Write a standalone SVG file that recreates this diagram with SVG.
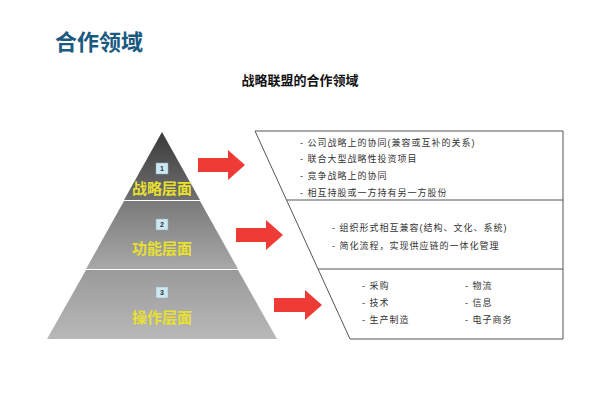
<svg xmlns="http://www.w3.org/2000/svg" width="600" height="400" viewBox="0 0 600 400">
<style>
.t{font-family:"Liberation Sans","Noto Sans CJK SC",sans-serif}
.it{font-size:9px;fill:#333;letter-spacing:1px}
.lv{font-size:15px;font-weight:bold;fill:#e8e030}
.num{font-size:7px;font-weight:bold;fill:#234}
.nb{fill:#cde8f0;stroke:#9ab;stroke-width:0.5}
.arr{fill:#ee3b36}
.ln{stroke:#555;stroke-width:1;fill:none}
</style>
<defs>
<linearGradient id="g1" x1="0" y1="0" x2="0" y2="1"><stop offset="0" stop-color="#3a3a3a"/><stop offset="1" stop-color="#707070"/></linearGradient>
<linearGradient id="g2" x1="0" y1="0" x2="0" y2="1"><stop offset="0" stop-color="#7a7a7a"/><stop offset="1" stop-color="#a8a8a8"/></linearGradient>
<linearGradient id="g3" x1="0" y1="0" x2="0" y2="1"><stop offset="0" stop-color="#9a9a9a"/><stop offset="1" stop-color="#b8b8b8"/></linearGradient>
</defs>
<rect width="600" height="400" fill="#fff"/>
<text class="t" x="55" y="50" font-size="22" font-weight="bold" fill="#1a5a80">合作领域</text>
<text class="t" x="300" y="85" font-size="13" font-weight="bold" fill="#111" text-anchor="middle">战略联盟的合作领域</text>
<g id="level1">
<polygon points="162,132 200,200 124,200" fill="url(#g1)"/>
<rect class="nb" x="156" y="163" width="12" height="11"/>
<text class="t num" x="162" y="171" text-anchor="middle">1</text>
<text class="t lv" x="162" y="194" text-anchor="middle">战略层面</text>
</g>
<g id="level2">
<polygon points="124,201 200,201 238,269 86,269" fill="url(#g2)"/>
<rect class="nb" x="156" y="219" width="12" height="11"/>
<text class="t num" x="162" y="227" text-anchor="middle">2</text>
<text class="t lv" x="162" y="254" text-anchor="middle">功能层面</text>
</g>
<g id="level3">
<polygon points="86,270 238,270 277,339 47,339" fill="url(#g3)"/>
<rect class="nb" x="156" y="287" width="12" height="11"/>
<text class="t num" x="162" y="295" text-anchor="middle">3</text>
<text class="t lv" x="162" y="323" text-anchor="middle">操作层面</text>
</g>
<g id="connectors">
<polygon class="arr" points="198,158 228,158 228,150 245,165 228,180 228,172 198,172"/>
<polygon class="arr" points="236,228 266,228 266,220 283,235 266,250 266,242 236,242"/>
<polygon class="arr" points="274,298 305,298 305,290 322,305 305,320 305,312 274,312"/>
</g>
<g id="panel">
<polygon class="ln" points="255,131 563,131 563,339 350,339"/>
<line class="ln" x1="287" y1="200" x2="563" y2="200"/>
<line class="ln" x1="318" y1="269" x2="563" y2="269"/>
</g>
<g id="strategy-items" class="t it">
<text x="300" y="146">- 公司战略上的协同(兼容或互补的关系)</text>
<text x="300" y="162">- 联合大型战略性投资项目</text>
<text x="300" y="179">- 竞争战略上的协同</text>
<text x="300" y="196">- 相互持股或一方持有另一方股份</text>
</g>
<g id="function-items" class="t it">
<text x="332" y="231">- 组织形式相互兼容(结构、文化、系统)</text>
<text x="332" y="249">- 简化流程，实现供应链的一体化管理</text>
</g>
<g id="operation-items" class="t it">
<text x="362" y="289">- 采购</text>
<text x="362" y="306">- 技术</text>
<text x="362" y="323">- 生产制造</text>
<text x="465" y="289">- 物流</text>
<text x="465" y="306">- 信息</text>
<text x="465" y="323">- 电子商务</text>
</g>
</svg>
